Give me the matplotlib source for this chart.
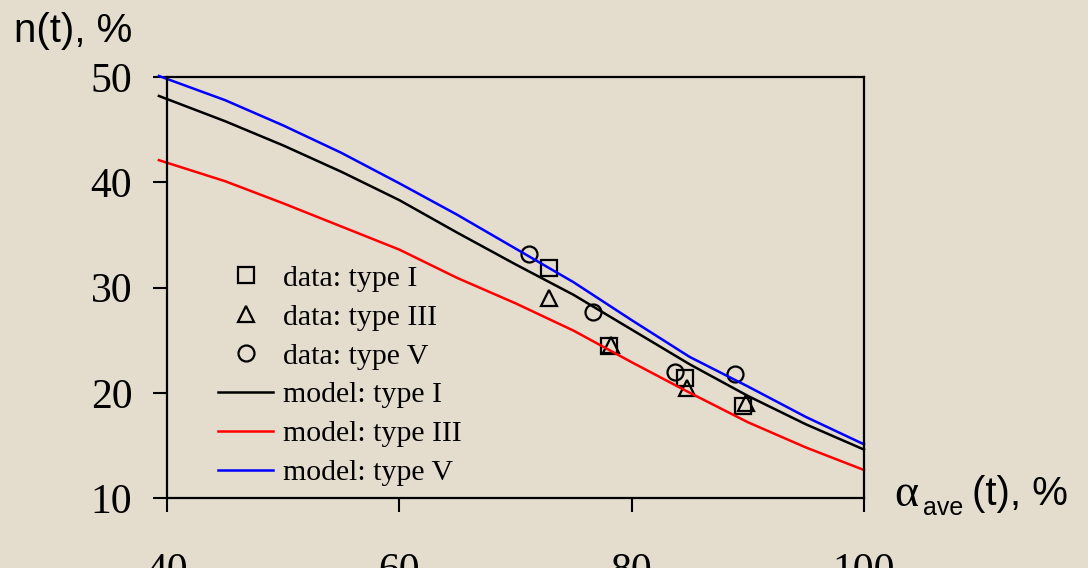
import matplotlib.pyplot as plt

# measured points
x_type1 = [72.9, 78.05, 84.6, 89.6]
n_type1 = [31.85, 24.4, 21.4, 18.7]
x_type3 = [72.9, 78.2, 84.8, 89.8]
n_type3 = [29.0, 24.5, 20.45, 19.0]
x_type5 = [71.2, 76.7, 83.7, 88.9]
n_type5 = [33.2, 27.7, 22.0, 21.8]

# model curves
x_model = [39.3, 45, 50, 55, 60, 65, 70, 75, 80, 85, 90, 95, 100]
model_type1 = [48.2, 45.8, 43.5, 41.0, 38.3, 35.2, 32.2, 29.3, 26.0, 22.7, 19.7, 17.0, 14.6]
model_type3 = [42.1, 40.1, 38.0, 35.8, 33.6, 30.9, 28.5, 25.9, 22.9, 20.0, 17.2, 14.8, 12.66]
model_type5 = [50.1, 47.8, 45.4, 42.8, 39.9, 36.9, 33.7, 30.5, 26.9, 23.4, 20.6, 17.7, 15.1]

x_ticks = [40, 60, 80, 100]
y_ticks = [10, 20, 30, 40, 50]

bg = '#E4DCCD'
W, H = 1088, 568

fig = plt.figure(figsize=(W / 100, H / 100), dpi=100, facecolor=bg)
ax = fig.add_axes([167 / W, 1 - 498 / H, (864 - 167) / W, (498 - 77) / H])
ax.set_facecolor(bg)

mk = dict(linestyle='none', markersize=11.5, markerfacecolor='none',
          markeredgecolor='black', markeredgewidth=1.6)
ax.plot(x_type1, n_type1, marker='s', label='data: type I', **mk)
ax.plot(x_type3, n_type3, marker='^', label='data: type III', **mk)
ax.plot(x_type5, n_type5, marker='o', label='data: type V', **mk)
ax.plot(x_model, model_type1, color='black', lw=1.8, label='model: type I', clip_on=False)
ax.plot(x_model, model_type3, color='#FF0000', lw=1.8, label='model: type III', clip_on=False)
ax.plot(x_model, model_type5, color='#0000FF', lw=1.8, label='model: type V', clip_on=False)

ax.set_xlim(40, 100)
ax.set_ylim(10, 50)
ax.set_xticks(x_ticks)
ax.set_yticks(y_ticks)
for s in ax.spines.values():
    s.set_linewidth(1.6)
ax.tick_params(direction='out', length=10, width=1.5, colors='black')
ax.tick_params(axis='x', pad=29)
ax.tick_params(axis='y', pad=15)
for lab in ax.get_xticklabels() + ax.get_yticklabels():
    lab.set_fontfamily('Liberation Serif')
    lab.set_fontsize(30)

leg = ax.legend(loc='upper left', bbox_to_anchor=((218 - 167) / 697, (498 - 265) / 421),
                frameon=False, prop={'family': 'Liberation Serif', 'size': 21.5},
                handlelength=1.85, handletextpad=0.33, labelspacing=0.4,
                borderpad=0, borderaxespad=0, markerscale=1.0)

# axis titles
sans = 'Liberation Sans'
fig.text(14 / W, 1 - 42 / H, 'n(t), %', family=sans, fontsize=29, va='baseline')
fig.text(894 / W, 1 - 506 / H, 'α', family='Liberation Serif', fontsize=33, va='baseline')
fig.text(923 / W, 1 - 515 / H, 'ave', family=sans, fontsize=18, va='baseline')
fig.text(972 / W, 1 - 505 / H, '(t), %', family=sans, fontsize=29, va='baseline')

fig.savefig('out.png', dpi=100, facecolor=bg)
